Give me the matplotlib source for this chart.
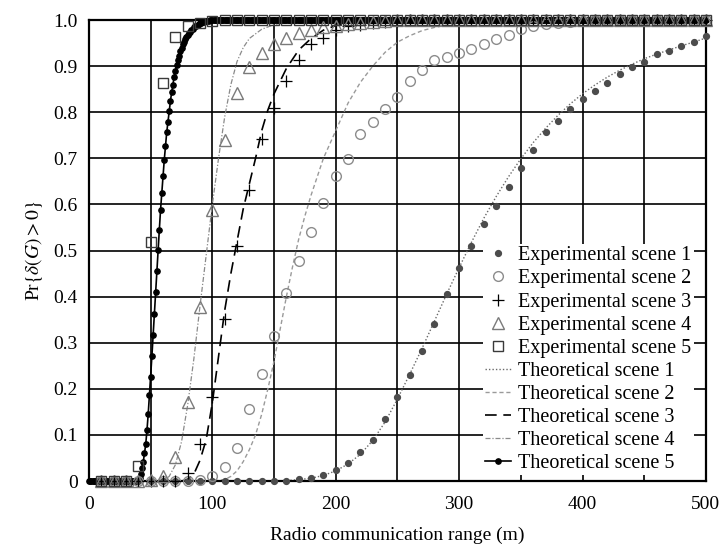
import matplotlib
matplotlib.use('Agg')
import matplotlib.pyplot as plt

plt.rcParams['font.family'] = ['Liberation Serif', 'DejaVu Serif']
plt.rcParams['mathtext.fontset'] = 'stix'

# experimental scenes, every 10 m
x_exp = list(range(10, 501, 10))
exp1 = [0.0]*16 + [0.004, 0.006, 0.012, 0.023, 0.038, 0.063, 0.090, 0.134, 0.183, 0.231,
                   0.282, 0.341, 0.405, 0.461, 0.510, 0.557, 0.597, 0.638, 0.678, 0.719,
                   0.756, 0.780, 0.807, 0.829, 0.847, 0.864, 0.882, 0.898, 0.909, 0.926,
                   0.933, 0.944, 0.952, 0.966]
exp2 = [0.0]*8 + [0.003, 0.010, 0.030, 0.072, 0.156, 0.233, 0.315, 0.407, 0.477, 0.540,
                  0.604, 0.662, 0.698, 0.753, 0.779, 0.806, 0.834, 0.868, 0.892, 0.913,
                  0.920, 0.928, 0.937, 0.948, 0.959, 0.967, 0.980, 0.988, 0.991, 0.994,
                  0.996, 0.998] + [1.0]*10
exp3 = [0.0]*7 + [0.017, 0.080, 0.183, 0.351, 0.510, 0.631, 0.741, 0.809, 0.868, 0.914,
                  0.947, 0.962, 0.979, 0.987, 0.990, 0.993, 0.995, 0.997] + [1.0]*25
exp4 = [0.0]*4 + [0.002, 0.010, 0.053, 0.171, 0.377, 0.588, 0.740, 0.842, 0.898, 0.929,
                  0.949, 0.962, 0.971, 0.978, 0.985, 0.988, 0.991, 0.994, 0.996, 0.998] + [1.0]*26
exp5 = [0.0, 0.0, 0.0, 0.033, 0.519, 0.863, 0.963, 0.986, 0.993, 0.998] + [1.0]*40

# theoretical curves
x_th1 = list(range(0, 501, 10))
th1 = [0.0]*16 + [0.001, 0.003, 0.006, 0.012, 0.022, 0.037, 0.058, 0.088, 0.128, 0.178,
                  0.232, 0.288, 0.347, 0.406, 0.463, 0.518, 0.570, 0.617, 0.660, 0.699,
                  0.734, 0.765, 0.793, 0.818, 0.840, 0.859, 0.876, 0.891, 0.904, 0.916,
                  0.926, 0.935, 0.944, 0.952, 0.961]

x_th2 = [0, 100, 110, 115, 120, 125, 130, 135, 140, 145, 150, 155, 160, 165, 170, 175, 180,
         190, 200, 210, 220, 230, 240, 250, 260, 270, 280, 290, 300, 320, 340, 360, 500]
th2 = [0, 0, 0.003, 0.01, 0.022, 0.042, 0.068, 0.10, 0.145, 0.20, 0.26, 0.33, 0.40, 0.465,
       0.525, 0.575, 0.62, 0.70, 0.76, 0.82, 0.865, 0.90, 0.93, 0.952, 0.966, 0.977, 0.984,
       0.989, 0.993, 0.997, 0.999, 1.0, 1.0]

x_th3 = [0, 75, 80, 85, 90, 95, 100, 105, 110, 115, 120, 125, 130, 135, 140, 145, 150,
         160, 170, 180, 190, 200, 210, 220, 230, 500]
th3 = [0, 0, 0.003, 0.015, 0.045, 0.09, 0.17, 0.27, 0.37, 0.45, 0.52, 0.59, 0.645, 0.70,
       0.76, 0.805, 0.84, 0.895, 0.935, 0.96, 0.978, 0.988, 0.994, 0.998, 1.0, 1.0]

x_th4 = [0, 60, 65, 70, 75, 80, 85, 90, 95, 100, 105, 110, 115, 120, 125, 130, 140, 150,
         160, 170, 500]
th4 = [0, 0, 0.01, 0.035, 0.085, 0.165, 0.265, 0.38, 0.49, 0.60, 0.70, 0.79, 0.86, 0.91,
       0.94, 0.96, 0.98, 0.99, 0.996, 1.0, 1.0]

# scene 5, every 1 m
x_th5 = list(range(0, 501))
th5 = [0.0]*40 + [0.002, 0.006, 0.015, 0.028, 0.042, 0.060, 0.080, 0.110, 0.145, 0.186,
                  0.226, 0.271, 0.317, 0.362, 0.411, 0.456, 0.501, 0.544, 0.588, 0.624,
                  0.662, 0.696, 0.727, 0.756, 0.779, 0.803, 0.824, 0.843, 0.859, 0.877,
                  0.889, 0.902, 0.913, 0.923, 0.932, 0.940, 0.947, 0.953, 0.958, 0.963,
                  0.967, 0.971, 0.975, 0.978, 0.981, 0.984, 0.986, 0.988, 0.990, 0.991,
                  0.993, 0.994, 0.995, 0.996, 0.997, 0.997, 0.998, 0.998, 0.999, 0.999,
                  1.0] + [1.0]*400

y_ticks = [0, 0.1, 0.2, 0.3, 0.4, 0.5, 0.6, 0.7, 0.8, 0.9, 1.0]
y_labels = ['0', '0.1', '0.2', '0.3', '0.4', '0.5', '0.6', '0.7', '0.8', '0.9', '1.0']
x_ticks = [0, 100, 200, 300, 400, 500]

fig = plt.figure(figsize=(7.21, 5.44), dpi=100)
ax = fig.add_axes([0.1234, 0.1158, 0.8557, 0.8474])

l1, = ax.plot(x_th1, th1, color='#6a6a6a', lw=1.0, linestyle=(0, (1, 1.5)), clip_on=False)
l2, = ax.plot(x_th2, th2, color='#9a9a9a', lw=1.0, linestyle=(0, (3, 2)), clip_on=False)
l3, = ax.plot(x_th3, th3, color='black', lw=1.2, linestyle=(0, (7, 4)), clip_on=False)
l4, = ax.plot(x_th4, th4, color='#8a8a8a', lw=0.9, linestyle=(0, (4, 1.5, 1, 1.5)), clip_on=False)
l5, = ax.plot(x_th5, th5, color='black', lw=1.2, marker='o', ms=3.8, clip_on=False, zorder=3)

m1, = ax.plot(x_exp, exp1, 'o', color='#4c4c4c', ms=4.2, mec='#4c4c4c', clip_on=False, zorder=4)
m2, = ax.plot(x_exp, exp2, 'o', mfc='none', mec='#8c8c8c', ms=7, mew=1.0, clip_on=False, zorder=4)
m3, = ax.plot(x_exp, exp3, '+', color='black', ms=9, mew=0.9, clip_on=False, zorder=4)
m4, = ax.plot(x_exp, exp4, '^', mfc='none', mec='#7a7a7a', ms=8.5, mew=1.0, clip_on=False, zorder=4)
m5, = ax.plot(x_exp, exp5, 's', mfc='none', mec='#3a3a3a', ms=7.5, mew=1.0, clip_on=False, zorder=4)

ax.set_xlim(0, 500)
ax.set_ylim(0, 1.0)
ax.set_xticks(x_ticks)
ax.set_xticks([50, 150, 250, 350, 450], minor=True)
ax.set_yticks(y_ticks)
ax.set_yticklabels(y_labels)
ax.tick_params(which='both', length=0, labelsize=14, pad=8)
ax.tick_params(axis='x', pad=10.5)
ax.grid(True, which='both', color='black', lw=1.2)
ax.set_axisbelow(True)
for s in ax.spines.values():
    s.set_linewidth(1.6)

ax.set_xlabel('Radio communication range (m)', fontsize=14, labelpad=10.5)
ax.set_ylabel(r'Pr$\{\delta(G)>0\}$', fontsize=14, labelpad=6)

handles = [m1, m2, m3, m4, m5, l1, l2, l3, l4, l5]
labels = ['Experimental scene %d' % i for i in range(1, 6)] + \
         ['Theoretical scene %d' % i for i in range(1, 6)]
leg = ax.legend(handles, labels, loc='lower right', bbox_to_anchor=(0.98, 0.012),
                fontsize=14.5, numpoints=1, handlelength=1.3, handletextpad=0.35,
                labelspacing=0.2, borderpad=0.1, borderaxespad=0.0,
                frameon=True, fancybox=False, framealpha=1.0)
leg.get_frame().set_edgecolor('none')
leg.set_zorder(5)

fig.savefig('out.png', dpi=100)
